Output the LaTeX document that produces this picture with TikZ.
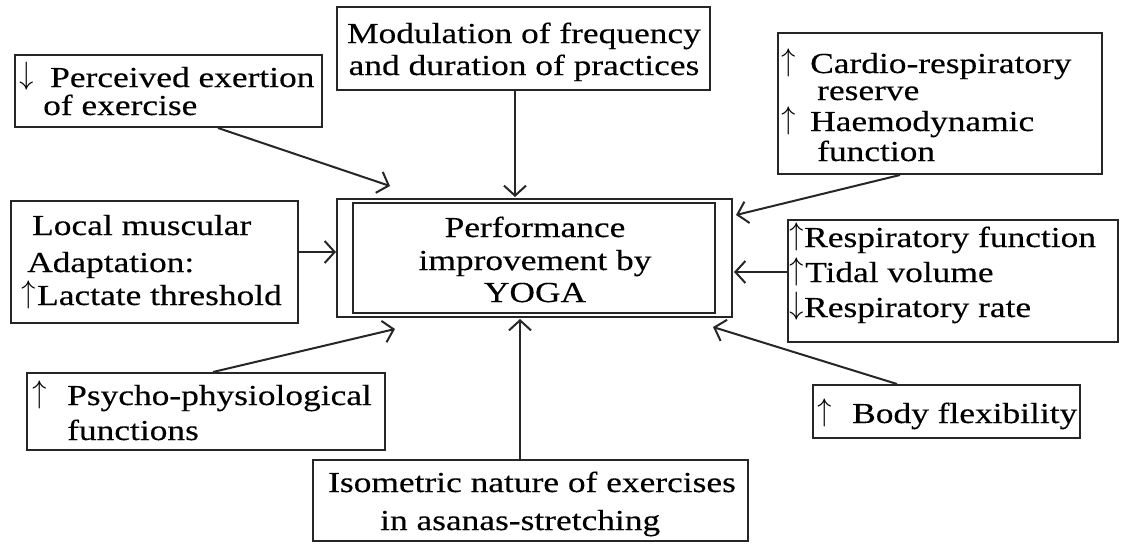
\documentclass[tikz,border=0pt]{standalone}
\usepackage{graphicx}
\usepackage{unicode-math}
\setmainfont[FakeStretch=1.22,FakeBold=0.3]{Liberation Serif}
\setmathfont{Latin Modern Math}
\usetikzlibrary{arrows.meta,fit}
% leading arrow glyph in a slot of given width
\newcommand\myup[1]{\makebox[#1][l]{\raisebox{3pt}{\scalebox{1}[1.1]{$\uparrow$}}}}
\newcommand\mydn[1]{\makebox[#1][l]{\raisebox{3pt}{\scalebox{1}[1.1]{$\downarrow$}}}}
\begin{document}
\begin{tikzpicture}[x=1pt,y=-1pt,
  bx/.style={draw=black!85,line width=2pt,inner sep=0pt},
  txt/.style={inner sep=0pt,anchor=base west,font=\fontsize{29}{33}\selectfont},
  ctxt/.style={txt,anchor=base},
  arr/.style={draw=black!85,line width=2pt,
    -{Straight Barb[length=10pt,width=22pt,line width=2pt]}}]
\useasboundingbox (0,0) rectangle (1123,544);

% frames
\node[bx,fit={(15,55)(322,127)}] (A) {};
\node[bx,fit={(337,7)(710,90)}] (B) {};
\node[bx,fit={(778,33)(1102,174)}] (C) {};
\node[bx,fit={(337,199)(732,317)}] (D) {};
\node[bx,fit={(353,203)(715,313)}] (Din) {};
\node[bx,fit={(11,201)(298,323)}] (E) {};
\node[bx,fit={(788,220)(1118,342)}] (F) {};
\node[bx,fit={(27,373)(385,450)}] (G) {};
\node[bx,fit={(313,460)(748,541)}] (H) {};
\node[bx,fit={(813,385)(1080,438)}] (I) {};

% labels
\node[txt] (a1) at (19,87) {\mydn{31pt}Perceived exertion};
\node[txt] (a2) at (43,115) {of exercise};
\node[ctxt] (b1) at (524,43) {Modulation of frequency};
\node[ctxt] (b2) at (524,75) {and duration of practices};
\node[txt] (c1) at (781,73) {\myup{29pt}Cardio-respiratory};
\node[txt] (c2) at (817,100) {reserve};
\node[txt] (c3) at (781,131) {\myup{29pt}Haemodynamic};
\node[txt] (c4) at (817,161) {function};
\node[ctxt] (d1) at (535,237) {Performance};
\node[ctxt] (d2) at (535,270) {improvement by};
\node[ctxt] (d3) at (535,302) {YOGA};
\node[txt] (e1) at (32,235) {Local muscular};
\node[txt] (e2) at (27,272) {Adaptation:};
\node[txt] (e3) at (21,305) {\myup{16pt}Lactate threshold};
\node[txt] (f1) at (789,247) {\myup{15pt}Respiratory function};
\node[txt] (f2) at (789,282) {\myup{16pt}Tidal volume};
\node[txt] (f3) at (789,317) {\mydn{15pt}Respiratory rate};
\node[txt] (g1) at (32,405) {\myup{35pt}Psycho-physiological};
\node[txt] (g2) at (67,440) {functions};
\node[txt] (h1) at (328,492) {Isometric nature of exercises};
\node[txt] (h2) at (380,530) {in asanas-stretching};
\node[txt] (i1) at (817,423) {\myup{35pt}Body flexibility};

% connectors into the central frame
\draw[arr] ([xshift=49.5pt]A.south) -- ([xshift=-144.5pt,yshift=12pt]D.north);
\draw[arr] ([xshift=-8.5pt]B.south) -- ([xshift=-19.5pt,yshift=1pt]D.north);
\draw[arr] ([xshift=-40pt]C.south) -- ([xshift=3pt,yshift=43pt]D.east);
\draw[arr] ([yshift=10pt]E.east) -- ([yshift=6pt]D.west);
\draw[arr] ([yshift=9pt]F.west) -- ([xshift=1pt,yshift=-14pt]D.east);
\draw[arr] ([xshift=7pt]G.north) -- ([xshift=-139.5pt,yshift=-11pt]D.south);
\draw[arr] ([xshift=-10.5pt]H.north) -- ([xshift=-14.5pt,yshift=-1pt]D.south);
\draw[arr] ([xshift=-49.5pt]I.north) -- ([xshift=178.5pt,yshift=-9pt]D.south);
\end{tikzpicture}
\end{document}
